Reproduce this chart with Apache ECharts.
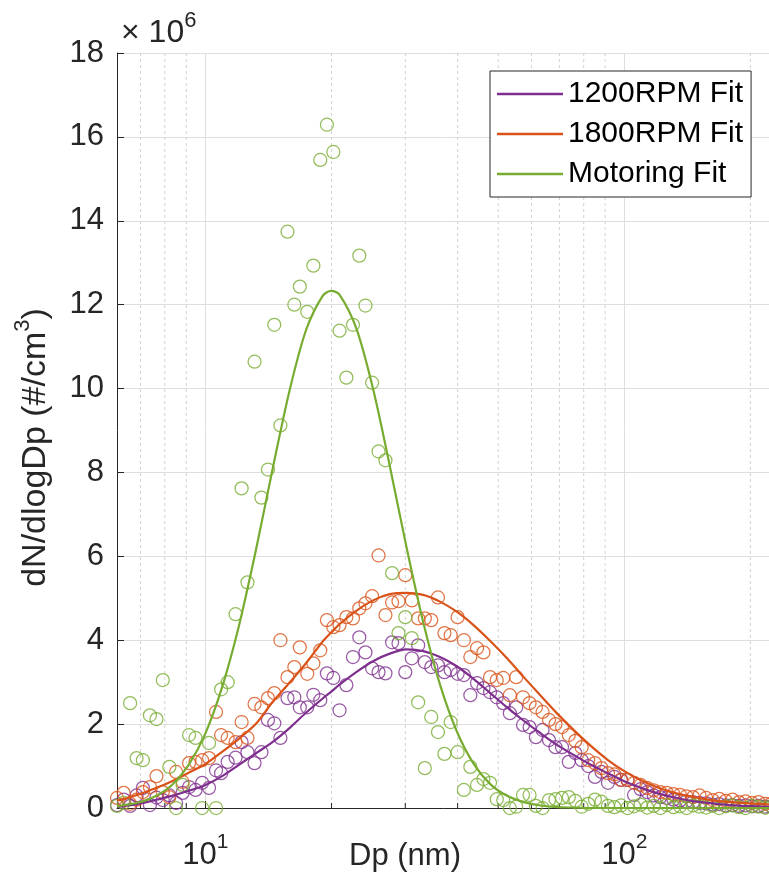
<!DOCTYPE html>
<html><head><meta charset="utf-8">
<script src="https://cdn.jsdelivr.net/npm/echarts@6/dist/echarts.min.js"></script>
<style>html,body{margin:0;padding:0;background:#fff}#c{width:769px;height:886px}</style>
</head><body><div id="c"></div>
<script>
// SMPS channel diameters (nm)
const channelDp = [6.15,6.38,6.61,6.85,7.09,7.37,7.64,7.91,8.2,8.51,
 8.82,9.14,9.47,9.82,10.2,10.6,10.9,11.3,11.8,12.2,
 12.6,13.1,13.6,14.1,14.6,15.1,15.7,16.3,16.8,17.5,
 18.1,18.8,19.5,20.2,20.9,21.7,22.5,23.3,24.1,25.0,
 25.9,26.9,27.9,28.9,30.0,31.1,32.2,33.4,34.6,35.9,
 37.2,38.5,40.0,41.4,42.9,44.5,46.1,47.8,49.6,51.4,
 53.3,55.2,57.3,59.4,61.5,63.8,66.1,68.5,71.0,73.7,
 76.4,79.1,82.0,85.1,88.2,91.4,94.7,98.2,101.8,105.5,
 109.4,113.4,117.6,121.9,126.3,131.0,135.8,140.7,145.9,151.2,
 156.8,162.5,168.5,174.7,181.1,187.7,194.6,201.7,209.1,216.7,224.7];
// measured dN/dlogDp (x10^6 #/cm^3)
const rpm1200 = [0.07,0.2,0.05,0.3,0.48,0.07,0.25,0.19,0.3,0.12,
 0.36,0.5,0.43,0.6,0.48,0.9,0.83,1.1,1.2,1.57,
 1.33,1.07,1.33,2.1,2.02,1.67,2.62,2.64,2.4,2.4,
 2.7,2.57,3.21,3.1,2.33,2.93,3.6,4.07,3.71,3.33,
 3.24,3.21,3.95,3.93,3.24,3.57,3.88,3.48,3.36,3.4,
 3.24,3.29,3.2,3.17,2.69,2.98,2.86,2.76,2.64,2.5,
 2.26,2.4,1.98,1.93,1.69,1.86,1.62,1.45,1.45,1.1,
 1.31,1.14,1.0,0.74,0.86,0.6,0.74,0.67,0.67,0.31,
 0.45,0.38,0.3,0.26,0.24,0.2,0.18,0.16,0.14,0.12,
 0.11,0.08,0.09,0.06,0.07,0.05,0.06,0.04,0.05,0.03,0.04];
const rpm1800 = [0.24,0.36,0.1,0.2,0.38,0.5,0.76,0.38,0.26,0.86,
 0.62,1.07,1.1,1.14,1.19,2.29,1.74,1.67,1.57,2.05,
 1.67,2.48,2.4,2.62,2.74,4.0,3.12,3.36,3.83,3.2,
 3.45,3.76,4.48,4.31,4.36,4.55,4.52,4.76,4.88,5.05,
 6.02,4.6,4.9,4.93,5.55,4.95,4.52,4.52,4.48,5.02,
 4.17,4.12,4.55,4.0,3.6,3.81,3.71,3.12,3.05,3.1,
 2.69,3.12,2.64,2.5,2.4,2.29,2.1,2.0,1.93,1.74,
 1.6,1.45,1.14,1.07,0.95,0.83,0.8,0.67,0.67,0.6,
 0.55,0.48,0.42,0.38,0.36,0.33,0.31,0.28,0.26,0.3,
 0.24,0.19,0.22,0.17,0.2,0.14,0.16,0.12,0.14,0.1,0.11];
const motoring = [0.05,0.12,2.5,1.19,1.14,2.21,2.12,3.05,0.98,0.0,
 0.55,1.74,1.67,0.0,1.55,0.0,2.83,3.0,4.62,7.62,
 5.38,10.64,7.4,8.07,11.52,9.12,13.74,12.0,12.43,11.83,
 12.93,15.45,16.29,15.64,11.38,10.26,11.52,13.17,11.98,10.14,
 8.5,8.29,5.6,4.17,4.55,4.05,2.52,0.95,2.17,1.81,
 1.29,2.05,1.33,0.43,0.98,0.55,0.69,0.6,0.21,0.19,
 0.0,0.03,0.31,0.31,0.05,0.0,0.19,0.21,0.24,0.26,
 0.17,0.03,0.1,0.2,0.15,0.05,0.02,0.06,0.0,0.04,
 0.08,0.01,0.05,0.0,0.07,0.02,0.04,0.0,0.06,0.03,
 0.01,0.05,0.0,0.04,0.06,0.02,0.0,0.05,0.03,0.01,0.04];
// fitted curves sampled on Dp grid
const fitDp = [6.15,6.31,6.92,7.59,8.32,9.12,10,10.96,12.02,13.18,14.45,15.85,17.38,19.05,19.95,20.89,22.91,25.12,27.54,30.2,33.11,36.31,39.81,43.65,47.86,52.48,57.54,63.1,69.18,75.86,83.18,91.2,100,109.6,120.2,131.8,144.5,158.5,173.8,190.5,208.9,229.1,251.2];
const fit1200 = [0.03,0.04,0.10,0.19,0.29,0.41,0.55,0.76,1.03,1.30,1.57,1.90,2.27,2.61,2.77,2.94,3.24,3.50,3.68,3.78,3.74,3.60,3.38,3.08,2.74,2.40,2.08,1.78,1.50,1.26,1.03,0.83,0.64,0.48,0.35,0.25,0.17,0.12,0.08,0.05,0.04,0.03,0.02];
const fit1800 = [0.18,0.2,0.32,0.47,0.64,0.84,1.05,1.34,1.65,2.0,2.52,2.98,3.45,3.97,4.18,4.38,4.7,4.95,5.1,5.13,5.08,4.92,4.68,4.36,3.98,3.57,3.12,2.68,2.25,1.85,1.48,1.15,0.88,0.66,0.49,0.36,0.27,0.2,0.15,0.12,0.1,0.08,0.07];
const fitMotoring = [0.04,0.06,0.13,0.28,0.55,1.03,1.78,2.88,4.34,6.12,8.06,9.92,11.39,12.21,12.33,12.24,11.44,10.0,8.16,6.22,4.43,2.94,1.83,1.06,0.57,0.29,0.14,0.06,0.02,0.01,0,0,0,0,0,0,0,0,0,0,0,0,0];
const minorDp = [7,8,9,20,30,40,50,60,70,80,90,200];
const seriesNames = ['1200RPM Fit','1800RPM Fit','Motoring Fit'];
const colors = ['#7E2F8E','#D95319','#77AC30'];

const FONT = 'Liberation Sans, Arial, Helvetica, sans-serif';
const TXT = '#262626';
const zip = (xs, ys) => xs.map((x, i) => [x, ys[i]]);

function scatter(data, color){
  return {type:'scatter', data: zip(channelDp, data), symbol:'circle', symbolSize:13, clip:false,
    itemStyle:{color:'rgba(0,0,0,0)', borderColor:color, borderWidth:1.25},
    emphasis:{disabled:true}, silent:true, z:3};
}
function fit(name, data, color){
  return {type:'line', name, data: zip(fitDp, data), symbol:'none', smooth:0.3,
    lineStyle:{color, width:2.2}, itemStyle:{color}, emphasis:{disabled:true}, silent:true, z:4};
}

const chart = echarts.init(document.getElementById('c'), null, {renderer:'canvas'});
chart.setOption({
  animation:false,
  backgroundColor:'#fff',
  grid:{left:117, top:53, right:-22, bottom:78, containLabel:false, outerBoundsMode:'none'},
  xAxis:{type:'log', logBase:10, min:6.15, max:250,
    name:'Dp (nm)', nameLocation:'middle', nameGap:33, nameMoveOverlap:false,
    nameTextStyle:{fontSize:31, color:TXT, fontFamily:FONT, padding:[0,98,0,0]},
    axisLine:{onZero:false, lineStyle:{color:TXT, width:1}},
    axisTick:{inside:true, length:7, lineStyle:{color:TXT}},
    axisLabel:{margin:24, color:TXT, fontFamily:FONT,
      formatter:(v)=>{const l=Math.log10(v); const r=Math.round(l); return Math.abs(l-r)<1e-6 ? '{b|10}{s|'+r+'}' : '';},
      rich:{b:{fontSize:31, fontFamily:FONT, color:TXT, padding:[8,0,0,0]}, s:{fontSize:21, fontFamily:FONT, color:TXT, verticalAlign:'top'}}},
    splitLine:{show:true, lineStyle:{color:'#dedede', width:1}}
  },
  yAxis:{type:'value', min:0, max:18, interval:2,
    name:'{a|dN/dlogDp (#/cm}{s|3}{a|)}', nameLocation:'middle', nameGap:64, nameRotate:90, nameMoveOverlap:false,
    nameTextStyle:{padding:[0,34,0,0], rich:{a:{fontSize:34, fontFamily:FONT, color:TXT, padding:[7,0,0,0]}, s:{fontSize:22, fontFamily:FONT, color:TXT, verticalAlign:'top'}}},
    axisLine:{show:true, lineStyle:{color:TXT, width:1}},
    axisTick:{show:true, inside:true, length:7, lineStyle:{color:TXT}},
    axisLabel:{fontSize:31, color:TXT, fontFamily:FONT, margin:13},
    splitLine:{show:true, lineStyle:{color:'#dedede', width:1}}
  },
  legend:{data:seriesNames, orient:'vertical', left:490, top:71, icon:'rect',
    padding:[8,8,8,7], borderColor:TXT, borderWidth:1, backgroundColor:'#fff',
    itemWidth:66, itemHeight:2.4, itemGap:10,
    textStyle:{fontSize:30, color:'#000', fontFamily:FONT, lineHeight:30}},
  graphic:[{type:'text', left:121, top:10,
    style:{text:'{a|× 10}{s|6}', rich:{a:{fontSize:32, fontFamily:FONT, fill:TXT, padding:[7,0,0,0]}, s:{fontSize:22, fontFamily:FONT, fill:TXT, verticalAlign:'top'}}}}],
  series:[
    {type:'custom', data: minorDp.map(v=>[v,0]), encode:{x:0,y:1}, clip:false, silent:true, z:1,
      renderItem:(params, api)=>{
        const x = api.coord([api.value(0), 0])[0];
        const cs = params.coordSys;
        return {type:'group', children:[
          {type:'line', shape:{x1:x, y1:cs.y, x2:x, y2:cs.y+cs.height}, style:{stroke:'#d2d2d2', lineWidth:1, lineDash:[3,3]}},
          {type:'line', shape:{x1:x, y1:cs.y+cs.height, x2:x, y2:cs.y+cs.height-5}, style:{stroke:TXT, lineWidth:1}}
        ]};
      }},
    scatter(rpm1200, colors[0]),
    scatter(rpm1800, colors[1]),
    scatter(motoring, colors[2]),
    fit(seriesNames[0], fit1200, colors[0]),
    fit(seriesNames[1], fit1800, colors[1]),
    fit(seriesNames[2], fitMotoring, colors[2])
  ]
});
</script></body></html>
